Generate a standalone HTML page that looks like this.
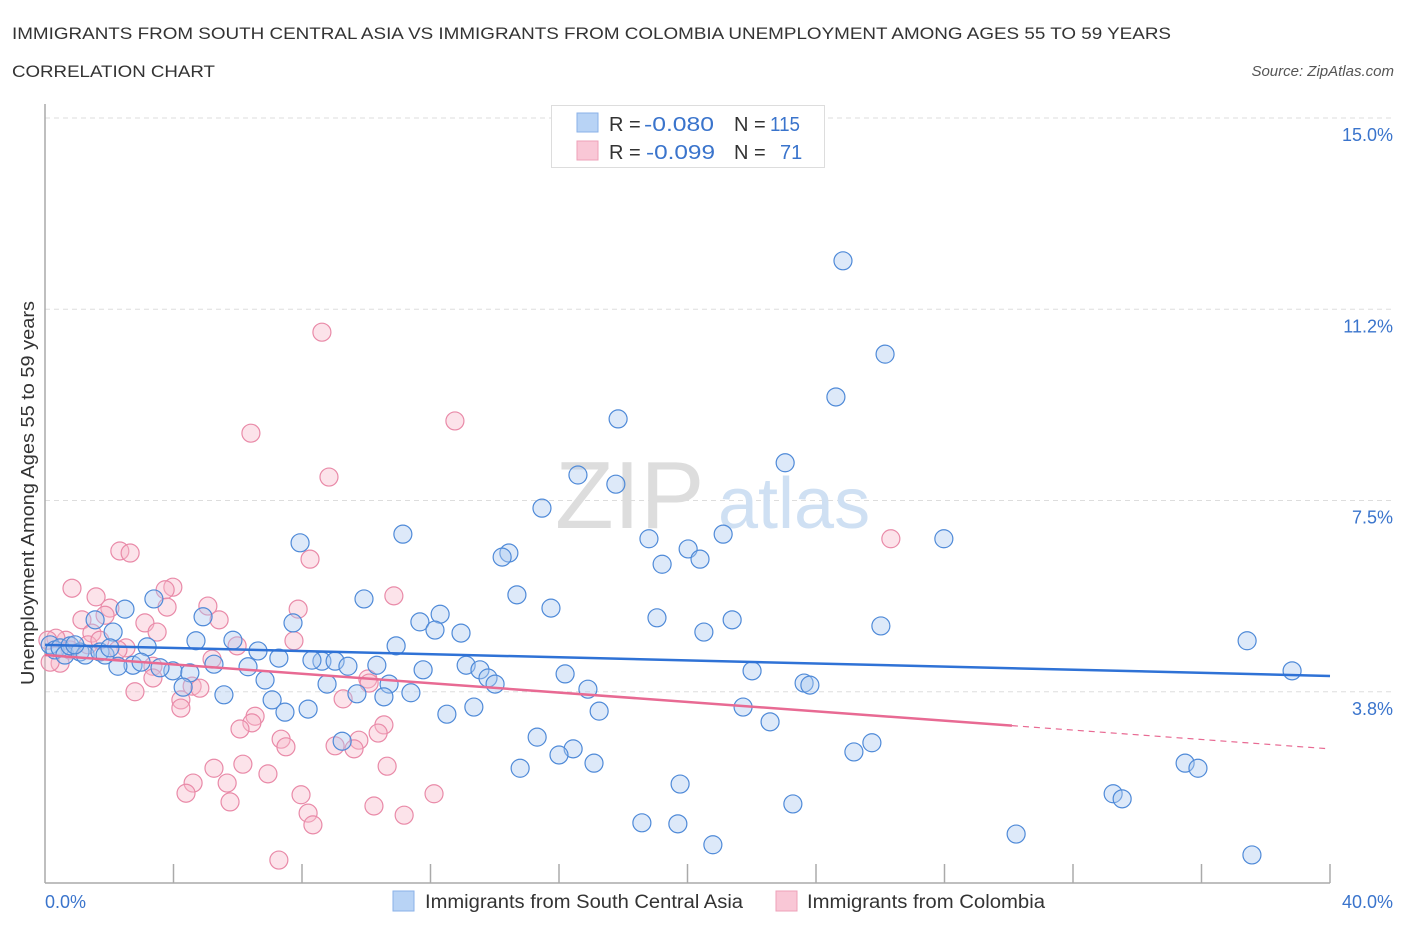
<!DOCTYPE html>
<html><head><meta charset="utf-8"><style>
body{margin:0;background:#fff;font-family:"Liberation Sans",sans-serif;}
svg text{font-family:"Liberation Sans",sans-serif;}
</style></head><body>
<svg id="chart" width="1406" height="930" xmlns="http://www.w3.org/2000/svg">
<text x="12" y="39" font-size="17" fill="#333" textLength="1159" lengthAdjust="spacingAndGlyphs">IMMIGRANTS FROM SOUTH CENTRAL ASIA VS IMMIGRANTS FROM COLOMBIA UNEMPLOYMENT AMONG AGES 55 TO 59 YEARS</text>
<text x="12" y="77" font-size="17" fill="#333" textLength="203" lengthAdjust="spacingAndGlyphs">CORRELATION CHART</text>
<text x="1394" y="76" font-size="15" fill="#555" font-style="italic" text-anchor="end">Source: ZipAtlas.com</text>
<g id="grid"></g>
<g>
<text x="555" y="528" font-size="96" fill="#ddd" font-family="Liberation Serif">ZIP</text>
<text x="718" y="528" font-size="72" fill="#cfe0f3">atlas</text>
</g>
<g id="axes"></g>
<g id="pink"></g>
<g id="blue"></g>
<g id="trends"></g>
<text transform="translate(34,493) rotate(-90)" font-size="18" fill="#333" text-anchor="middle" textLength="384" lengthAdjust="spacingAndGlyphs">Unemployment Among Ages 55 to 59 years</text>
<g>
<rect x="551.5" y="105.5" width="273" height="62" fill="#fff" stroke="#ddd"/>
<rect x="577" y="113" width="21" height="19" fill="#b8d3f5" stroke="#8ab2e8"/>
<rect x="577" y="141" width="21" height="19" fill="#f9c7d6" stroke="#eea0b8"/>
<text x="609" y="131" font-size="20" fill="#333">R = <tspan fill="#3a74cc" x="644" textLength="70" lengthAdjust="spacingAndGlyphs">-0.080</tspan><tspan x="734">N = </tspan><tspan fill="#3a74cc" x="770" textLength="30" lengthAdjust="spacingAndGlyphs">115</tspan></text>
<text x="609" y="159" font-size="20" fill="#333">R = <tspan fill="#3a74cc" x="646" textLength="69" lengthAdjust="spacingAndGlyphs">-0.099</tspan><tspan x="734">N = </tspan><tspan fill="#3a74cc" x="780">71</tspan></text>
</g>
<g>
<rect x="393" y="891" width="21" height="20" fill="#b8d3f5" stroke="#8ab2e8"/>
<text x="425" y="908" font-size="19" fill="#333" textLength="318" lengthAdjust="spacingAndGlyphs">Immigrants from South Central Asia</text>
<rect x="776" y="891" width="21" height="20" fill="#f9c7d6" stroke="#eea0b8"/>
<text x="807" y="908" font-size="19" fill="#333" textLength="238" lengthAdjust="spacingAndGlyphs">Immigrants from Colombia</text>
</g>
</svg>
<script>
const yTicks=[3.75,7.5,11.25,15];
const yTickLabels=["3.8%","7.5%","11.2%","15.0%"];
const xTickLabels=["0.0%","40.0%"];
const bluePx=[[843,261],[885,354],[836,397],[618,419],[785,463],[578,475],[616,484],[542,508],[403,534],[723,534],[649,539],[688,549],[944,539],[300,543],[509,553],[502,557],[700,559],[662,564],[517,595],[364,599],[551,608],[154,599],[125,609],[293,623],[203,617],[440,614],[420,622],[657,618],[732,620],[881,626],[435,630],[461,633],[704,632],[113,632],[95,620],[1247,641],[1292,671],[396,646],[196,641],[233,640],[258,651],[279,658],[214,664],[248,667],[322,661],[312,660],[335,661],[348,666],[377,665],[466,665],[423,670],[480,670],[565,674],[752,671],[173,671],[190,673],[160,668],[133,665],[118,666],[183,687],[224,695],[265,680],[327,684],[357,694],[389,684],[384,697],[411,693],[488,678],[495,684],[588,689],[804,683],[810,685],[272,700],[285,712],[308,709],[447,714],[474,707],[599,711],[743,707],[770,722],[537,737],[342,741],[573,749],[559,755],[872,743],[854,752],[520,768],[594,763],[680,784],[793,804],[1185,763],[1198,768],[1113,794],[1122,799],[642,823],[678,824],[713,845],[1016,834],[1252,855],[50,645],[55,650],[60,648],[65,655],[70,646],[80,652],[85,655],[75,645],[100,652],[105,655],[110,648],[147,647],[141,662]];
const pinkPx=[[322,332],[455,421],[251,433],[329,477],[891,539],[310,559],[120,551],[130,553],[72,588],[173,587],[165,590],[96,597],[394,596],[298,609],[208,606],[167,607],[110,608],[219,620],[145,623],[82,620],[105,615],[157,632],[92,633],[294,641],[237,646],[126,648],[66,640],[56,638],[60,663],[212,659],[153,666],[118,650],[368,679],[135,692],[153,678],[192,686],[181,700],[200,688],[369,683],[343,699],[181,708],[255,716],[252,723],[240,729],[384,725],[281,739],[378,733],[286,747],[335,746],[359,740],[354,749],[214,768],[243,764],[268,774],[387,766],[193,783],[227,783],[186,793],[301,795],[230,802],[434,794],[374,806],[308,813],[404,815],[313,825],[279,860],[48,640],[50,662],[88,645],[70,650],[100,640]];
const blueX=bluePx.map(p=>+((p[0]-45)/32.125).toFixed(2));
const blueY=bluePx.map(p=>+((883-p[1])/51).toFixed(2));
const pinkX=pinkPx.map(p=>+((p[0]-45)/32.125).toFixed(2));
const pinkY=pinkPx.map(p=>+((883-p[1])/51).toFixed(2));
const blueTrend=[4.67,4.06];
const pinkTrend=[4.47,2.63];
const pinkSolidEnd=30.1;

const X0=45,X1=1330,Y0=883,Y1=118;
const sx=v=>X0+v/40*(X1-X0);
const sy=v=>Y0-v/15*(Y0-Y1);
const NS="http://www.w3.org/2000/svg";
function mk(tag,attrs,parent){const e=document.createElementNS(NS,tag);for(const k in attrs)e.setAttribute(k,attrs[k]);parent.appendChild(e);return e;}
const grid=document.getElementById('grid'),axes=document.getElementById('axes');
yTicks.forEach((t,i)=>{
 const g=mk('line',{x1:X0,x2:1393,y1:sy(t),y2:sy(t),stroke:'#ddd','stroke-dasharray':'5,4'},grid);
 
 
 const tx=mk('text',{x:1393,y:sy(t)+23,'font-size':18,fill:'#3a74cc','text-anchor':'end'},axes);
 tx.textContent=yTickLabels[i];
 
 
});
const ya=mk('line',{x1:X0,x2:X0,y1:104,y2:Y0,stroke:'#aaa','stroke-width':1.5},axes);


const xa=mk('line',{x1:X0,x2:X1,y1:Y0,y2:Y0,stroke:'#aaa','stroke-width':1.5},axes);


for(let k=1;k<=10;k++){
 const tk=mk('line',{x1:sx(k*4),x2:sx(k*4),y1:Y0-19,y2:Y0,stroke:'#aaa','stroke-width':1.5},axes);
 
 
}
[[0,'start',45],[40,'end',1393]].forEach((d,i)=>{
 const t=mk('text',{x:d[2],y:908,'font-size':18,fill:'#3a74cc','text-anchor':d[1]},axes);
 t.textContent=xTickLabels[i];
 
 
});
function pts(gid,xs,ys,fill,stroke,name){
 const g=document.getElementById(gid);
 xs.forEach((x,i)=>{
  const c=mk('circle',{cx:sx(x),cy:sy(ys[i]),r:9,fill:fill,'fill-opacity':0.4,stroke:stroke,'stroke-width':1.2},g);
  
  
 });
}
pts('pink',pinkX,pinkY,'#f7b8cb','#e98aa8','colombia-point');
pts('blue',blueX,blueY,'#a9c9f1','#4f8ad8','south-central-asia-point');
const tr=document.getElementById('trends');
const bl=mk('line',{x1:sx(0),y1:sy(blueTrend[0]),x2:sx(40),y2:sy(blueTrend[1]),stroke:'#2f72d6','stroke-width':2.5},tr);


const pAt=x=>pinkTrend[0]+(pinkTrend[1]-pinkTrend[0])*x/40;
const pl=mk('line',{x1:sx(0),y1:sy(pinkTrend[0]),x2:sx(pinkSolidEnd),y2:sy(pAt(pinkSolidEnd)),stroke:'#e86a93','stroke-width':2.5},tr);


const pd=mk('line',{x1:sx(pinkSolidEnd),y1:sy(pAt(pinkSolidEnd)),x2:sx(40),y2:sy(pinkTrend[1]),stroke:'#e86a93','stroke-width':1.2,'stroke-dasharray':'6,5'},tr);


</script>
</body></html>
